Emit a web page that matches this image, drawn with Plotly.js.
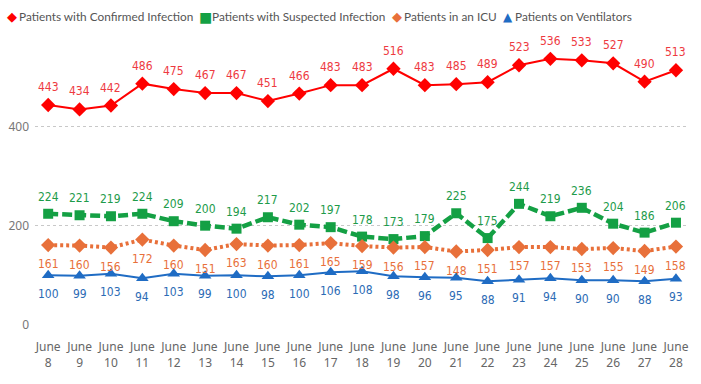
<!DOCTYPE html>
<html>
<head>
<meta charset="utf-8">
<script src="https://cdn.plot.ly/plotly-3.0.1.min.js"></script>
<style>html,body{margin:0;padding:0;background:#fff;}#chart{width:701px;height:384px;}</style>
</head>
<body>
<div id="chart"></div>
<script>
const days = ["June<br>8","June<br>9","June<br>10","June<br>11","June<br>12","June<br>13","June<br>14","June<br>15","June<br>16","June<br>17","June<br>18","June<br>19","June<br>20","June<br>21","June<br>22","June<br>23","June<br>24","June<br>25","June<br>26","June<br>27","June<br>28"];
const confirmed = [443,434,442,486,475,467,467,451,466,483,483,516,483,485,489,523,536,533,527,490,513];
const suspected = [224,221,219,224,209,200,194,217,202,197,178,173,179,225,175,244,219,236,204,186,206];
const icu = [161,160,156,172,160,151,163,160,161,165,159,156,157,148,151,157,157,153,155,149,158];
const ventilators = [100,99,103,94,103,99,100,98,100,106,108,98,96,95,88,91,94,90,90,88,93];
const seriesNames = ["Patients with Confirmed Infection","Patients with Suspected Infection","Patients in an ICU","Patients on Ventilators"];
const yTicks = [0,200,400];

const series = [
  {y:confirmed, color:"#FF0000", label:"#EE3A3F", symbol:"diamond", glyph:"\u25C6", gsize:13, size:11, width:2, dash:"solid", shift:18, sx:12, tx:17},
  {y:suspected, color:"#14A044", label:"#1E9B4A", symbol:"square", glyph:"\u25A0", gsize:14, size:10, width:4.5, dash:"10px,4px", shift:17, sx:205, tx:210},
  {y:icu, color:"#E8703A", label:"#E8703A", symbol:"diamond", glyph:"\u25C6", gsize:13, size:11, width:4, dash:"3px,3px", shift:-19, sx:397, tx:402},
  {y:ventilators, color:"#1F6CC4", label:"#2C6BB5", symbol:"triangle-up", glyph:"\u25B2", gsize:12, size:11, width:2, dash:"solid", shift:-18.5, sx:508, tx:513}
];

const W = 701, H = 384;
const M = {l:35, r:15, t:32, b:59};
const pw = W - M.l - M.r, ph = H - M.t - M.b;
const px2x = px => (px - M.l) / pw;
const py2y = py => (H - M.b - py) / ph;
const legendY = py2y(17);

const traces = [];
const annotations = [];

series.forEach((s, k) => {
  traces.push({
    type:"scatter", mode:"lines+markers", x:days, y:s.y, name:seriesNames[k], showlegend:false,
    line:{color:s.color, width:s.width, dash:s.dash},
    marker:{color:s.color, symbol:s.symbol, size:s.size},
    hoverinfo:"x+y"
  });
  annotations.push({xref:"paper", yref:"paper", x:px2x(s.sx), y:legendY, xanchor:"center", yanchor:"middle",
    text:s.glyph, showarrow:false, font:{family:"DejaVu Sans, sans-serif", size:s.gsize, color:s.color}});
  annotations.push({xref:"paper", yref:"paper", x:px2x(s.tx), y:legendY, xanchor:"left", yanchor:"middle",
    text:seriesNames[k], showarrow:false, font:{family:"Lato, Noto Sans, sans-serif", size:11.8, color:"#555"}});
  s.y.forEach((v,i) => {
    annotations.push({x:days[i], y:v, xref:"x", yref:"y", text:String(v), showarrow:false,
      yshift:s.shift, font:{family:"Liberation Sans Narrow, DejaVu Sans Condensed, sans-serif", size:12, color:s.label}});
  });
});

const layout = {
  width:W, height:H,
  margin:M,
  paper_bgcolor:"#fff", plot_bgcolor:"#fff",
  font:{family:"Noto Sans, sans-serif", color:"#666"},
  showlegend:false,
  xaxis:{type:"category", categoryorder:"array", categoryarray:days, range:[-0.42,20.32],
    showgrid:false, zeroline:false, showline:false, ticks:"", ticklabelstandoff:13,
    tickfont:{family:"Noto Sans, sans-serif", size:12, color:"#666"}},
  yaxis:{range:[0,590], tickvals:yTicks, ticktext:yTicks.map(String), showgrid:true,
    gridcolor:"#C8C8C8", griddash:"dot", gridwidth:1, zeroline:false, showline:false, ticks:"",
    ticklabelstandoff:5,
    tickfont:{family:"Noto Sans, sans-serif", size:12, color:"#777"}},
  annotations:annotations
};

Plotly.newPlot("chart", traces, layout, {displayModeBar:false, staticPlot:true});
</script>
</body>
</html>
